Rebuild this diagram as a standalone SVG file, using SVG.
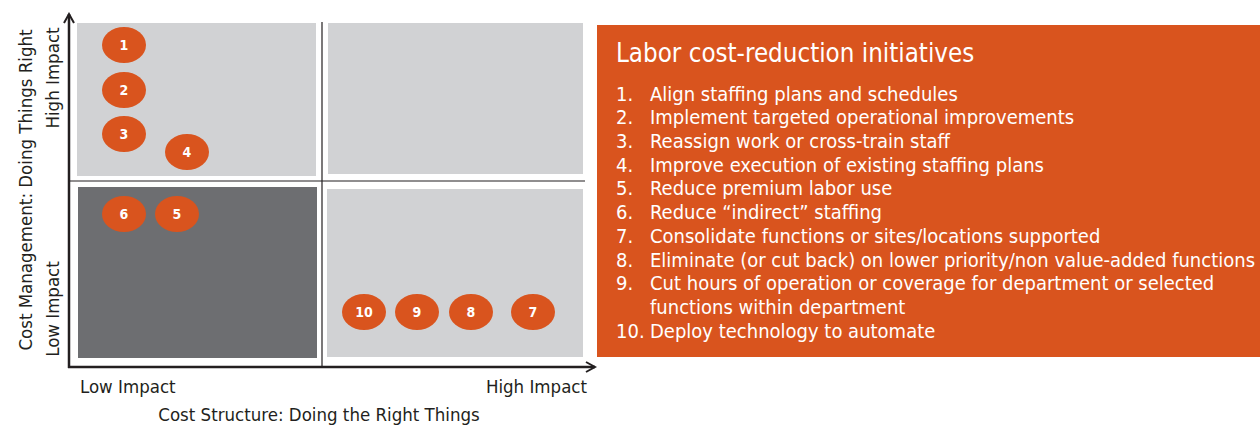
<svg xmlns="http://www.w3.org/2000/svg" width="1260" height="426" viewBox="0 0 1260 426">
<defs>
<style>
.lbl{font-family:"Liberation Sans Narrow","DejaVu Sans Condensed","Liberation Sans",sans-serif;fill:#231f20;font-size:18.5px}
.dot{fill:#d9541e}
.num{font-family:"DejaVu Sans Condensed","Liberation Sans",sans-serif;font-weight:bold;fill:#ffffff;font-size:14px;text-anchor:middle}
.list{font-family:"Liberation Sans Narrow","DejaVu Sans Condensed","Liberation Sans",sans-serif;fill:#ffffff;font-size:20px}
.ax{stroke:#231f20;fill:none}
</style>
<marker id="arr" viewBox="0 0 12 12" refX="10" refY="6" markerWidth="12" markerHeight="12" markerUnits="userSpaceOnUse" orient="auto">
<path d="M1,1 L10,6 L1,11" fill="none" stroke="#231f20" stroke-width="2"/>
</marker>
</defs>
<rect width="1260" height="426" fill="#ffffff"/>
<g id="quadrants">
<rect x="77" y="23" width="239" height="153" fill="#d1d2d4"/>
<rect x="328" y="23" width="255" height="151" fill="#d1d2d4"/>
<rect x="78" y="187" width="239" height="171" fill="#6d6e71"/>
<rect x="327" y="189" width="256" height="168" fill="#d1d2d4"/>
</g>
<g id="connectors">
<line class="ax" x1="322" y1="22" x2="322" y2="367" stroke-width="1.2"/>
<line class="ax" x1="69" y1="181" x2="585" y2="181" stroke-width="1.2"/>
<line class="ax" x1="69" y1="368" x2="69" y2="14" stroke-width="2.5" marker-end="url(#arr)"/>
<line class="ax" x1="68" y1="367" x2="595" y2="367" stroke-width="2.5" marker-end="url(#arr)"/>
</g>
<g id="labels">
<text class="lbl" x="80" y="393">Low Impact</text>
<text class="lbl" x="587" y="393" text-anchor="end">High Impact</text>
<text class="lbl" x="319" y="421" text-anchor="middle">Cost Structure: Doing the Right Things</text>
<text class="lbl" transform="translate(32,190) rotate(-90)" text-anchor="middle">Cost Management: Doing Things Right</text>
<text class="lbl" transform="translate(59,78) rotate(-90)" text-anchor="middle">High Impact</text>
<text class="lbl" transform="translate(59,309) rotate(-90)" text-anchor="middle">Low Impact</text>
</g>
<g id="n1"><ellipse class="dot" cx="124" cy="45" rx="22" ry="18"/><text class="num" x="124" y="50">1</text></g>
<g id="n2"><ellipse class="dot" cx="124" cy="90" rx="22" ry="18"/><text class="num" x="124" y="95">2</text></g>
<g id="n3"><ellipse class="dot" cx="124" cy="134" rx="22" ry="18"/><text class="num" x="124" y="139">3</text></g>
<g id="n4"><ellipse class="dot" cx="187" cy="152" rx="22" ry="18"/><text class="num" x="187" y="157">4</text></g>
<g id="n6"><ellipse class="dot" cx="124" cy="214" rx="22" ry="18"/><text class="num" x="124" y="219">6</text></g>
<g id="n5"><ellipse class="dot" cx="177" cy="214" rx="22" ry="18"/><text class="num" x="177" y="219">5</text></g>
<g id="n10"><ellipse class="dot" cx="364" cy="312" rx="22" ry="18"/><text class="num" x="364" y="317">10</text></g>
<g id="n9"><ellipse class="dot" cx="417" cy="312" rx="22" ry="18"/><text class="num" x="417" y="317">9</text></g>
<g id="n8"><ellipse class="dot" cx="471" cy="312" rx="22" ry="18"/><text class="num" x="471" y="317">8</text></g>
<g id="n7"><ellipse class="dot" cx="533" cy="312" rx="22" ry="18"/><text class="num" x="533" y="317">7</text></g>
<g id="legend">
<rect x="597" y="25" width="663" height="332" fill="#d9541e"/>
<text class="list" x="616" y="62" style="font-size:25.7px">Labor cost-reduction initiatives</text>
<g class="list">
<text x="616" y="101">1.</text><text x="650" y="101">Align staffing plans and schedules</text>
<text x="616" y="124">2.</text><text x="650" y="124">Implement targeted operational improvements</text>
<text x="616" y="148">3.</text><text x="650" y="148">Reassign work or cross-train staff</text>
<text x="616" y="172">4.</text><text x="650" y="172">Improve execution of existing staffing plans</text>
<text x="616" y="195">5.</text><text x="650" y="195">Reduce premium labor use</text>
<text x="616" y="219">6.</text><text x="650" y="219">Reduce “indirect” staffing</text>
<text x="616" y="243">7.</text><text x="650" y="243">Consolidate functions or sites/locations supported</text>
<text x="616" y="267">8.</text><text x="650" y="267">Eliminate (or cut back) on lower priority/non value-added functions</text>
<text x="616" y="290">9.</text><text x="650" y="290">Cut hours of operation or coverage for department or selected</text>
<text x="650" y="314">functions within department</text>
<text x="616" y="338">10.</text><text x="650" y="338">Deploy technology to automate</text>
</g>
</g>
</svg>
